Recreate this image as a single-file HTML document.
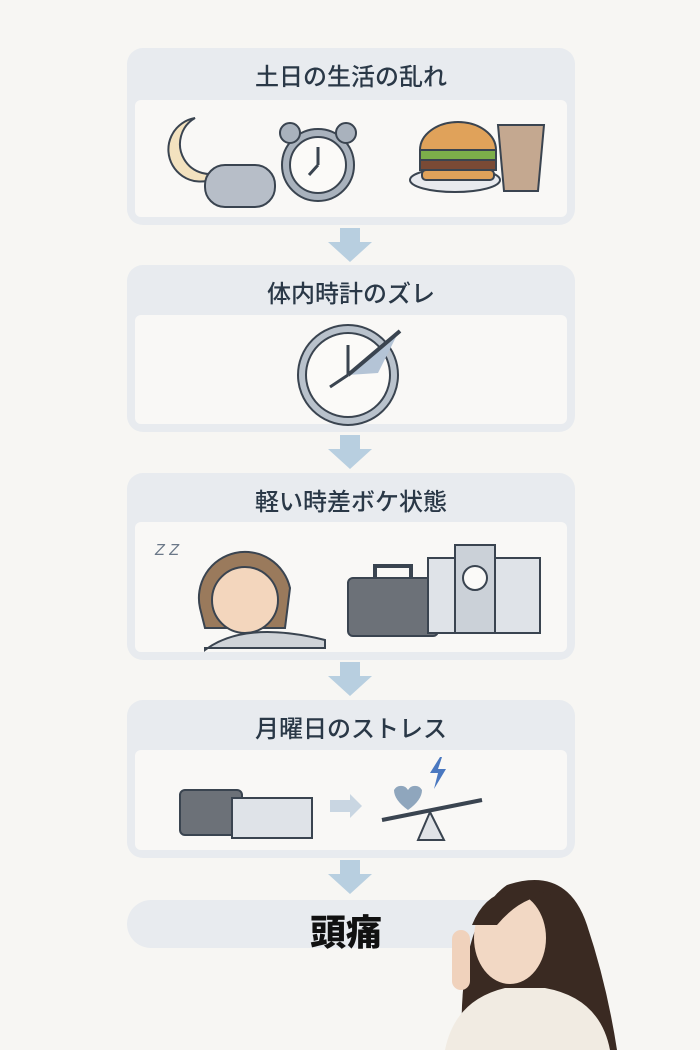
<!DOCTYPE html>
<html><head><meta charset="utf-8"><style>
body{margin:0;width:700px;height:1050px;background:#f7f6f3;position:relative;overflow:hidden;font-family:"Liberation Sans","Noto Sans CJK JP",sans-serif}
.card{position:absolute;left:127px;width:448px;background:#e8ebef;border-radius:16px}
.card .t{position:absolute;left:0;right:0;text-align:center;font-size:24px;color:#2a3847;top:9px;font-weight:500}
.card .in{position:absolute;left:8px;right:8px;bottom:8px;background:#f9f8f6;border-radius:6px}
svg{position:absolute;left:0;top:0}
</style></head><body>
<div class="card" style="top:48px;height:177px"><div class="t">土日の生活の乱れ</div><div class="in" style="top:52px"></div></div>
<div class="card" style="top:265px;height:167px"><div class="t">体内時計のズレ</div><div class="in" style="top:50px"></div></div>
<div class="card" style="top:473px;height:187px"><div class="t">軽い時差ボケ状態</div><div class="in" style="top:49px"></div></div>
<div class="card" style="top:700px;height:158px"><div class="t">月曜日のストレス</div><div class="in" style="top:50px"></div></div>
<div class="card" style="top:900px;height:48px;border-radius:24px"><div class="t" style="top:4px;font-size:36px;font-weight:900;color:#111;left:-10px">頭痛</div></div>
<svg width="700" height="1050">
<g fill="#b8cfe0">
<path d="M340 228h20v14h12l-22 20-22-20h12z"/>
<path d="M340 435h20v14h12l-22 20-22-20h12z"/>
<path d="M340 662h20v14h12l-22 20-22-20h12z"/>
<path d="M340 860h20v14h12l-22 20-22-20h12z"/>
</g>
<g stroke="#3a4450" stroke-width="2">
<path d="M195 118a32 32 0 1 0 30 52a26 26 0 1 1 -30-52z" fill="#f3e2bf"/>
<rect x="205" y="165" width="70" height="42" rx="20" fill="#b7bec8"/>
<circle cx="318" cy="165" r="36" fill="#a9b2bd"/><circle cx="318" cy="165" r="28" fill="#fbfaf8"/>
<circle cx="290" cy="133" r="10" fill="#a9b2bd"/><circle cx="346" cy="133" r="10" fill="#a9b2bd"/>
<path d="M318 165v-18M318 165l-9 10" fill="none" stroke-width="3"/>
<ellipse cx="455" cy="180" rx="45" ry="12" fill="#e8eaee"/>
<path d="M420 150a38 28 0 0 1 76 0z" fill="#e0a25a"/>
<rect x="420" y="150" width="76" height="10" fill="#7cae4a"/>
<rect x="420" y="160" width="76" height="10" fill="#7a4a35"/>
<rect x="422" y="170" width="72" height="10" rx="4" fill="#e0a25a"/>
<path d="M498 125h46l-6 66h-34z" fill="#c4a890"/>
<circle cx="348" cy="375" r="50" fill="#b9c2cc"/><circle cx="348" cy="375" r="42" fill="#fbfaf8"/>
<path d="M348 375l50-42l-20 40z" fill="#b4c4d6" stroke="none"/>
<path d="M348 375v-30M348 375l-18 12" fill="none" stroke-width="3"/>
<path d="M348 375l52-44" stroke-width="4"/>
<rect x="348" y="578" width="90" height="58" rx="5" fill="#6c7178"/>
<path d="M375 578v-12h36v12" fill="none" stroke-width="4"/>
<rect x="428" y="558" width="112" height="75" fill="#dfe3e8"/>
<rect x="455" y="545" width="40" height="88" fill="#cbd1d8"/>
<circle cx="475" cy="578" r="12" fill="#fbfaf8"/>
<path d="M200 608a45 45 0 0 1 90 -20l-5 40h-80z" fill="#9a7a5c"/>
<circle cx="245" cy="600" r="33" fill="#f3d6bd"/>
<path d="M205 650q40-30 120-10v8h-120z" fill="#cfd3d8"/>
<rect x="180" y="790" width="62" height="45" rx="5" fill="#6c7178"/>
<rect x="232" y="798" width="80" height="40" fill="#dfe3e8"/>
<path d="M330 800h20v-6l12 12-12 12v-6h-20z" fill="#c9d6e2" stroke="none"/>
<path d="M382 820l100-20" stroke-width="4"/>
<path d="M430 812l-12 28h26z" fill="#e0e3e7"/>
<path d="M394 790a8 8 0 0 1 14 0a8 8 0 0 1 14 0q0 10-14 20q-14-10-14-20z" fill="#8fa6bd" stroke="none"/>
<path d="M440 757l-10 16h8l-4 16 12-20h-8l4-12z" fill="#4a78c0" stroke="none"/>
</g>
<g font-family="Liberation Sans" fill="#6b7888" font-size="16" font-style="italic"><text x="155" y="555">Z Z</text></g>
<g>
<path d="M462 1050q-5-130 45-165q60-20 80 40q20 60 30 125z" fill="#3a2a22"/>
<ellipse cx="510" cy="938" rx="36" ry="46" fill="#f2d8c4"/>
<path d="M472 925q20-50 80-30q-30 0-55 30z" fill="#3a2a22"/>
<path d="M445 1050q10-50 60-62h40q55 10 65 62z" fill="#f1ebe2"/>
<rect x="452" y="930" width="18" height="60" rx="9" fill="#f0d2bc"/>
</g>
</svg>
</body></html>
